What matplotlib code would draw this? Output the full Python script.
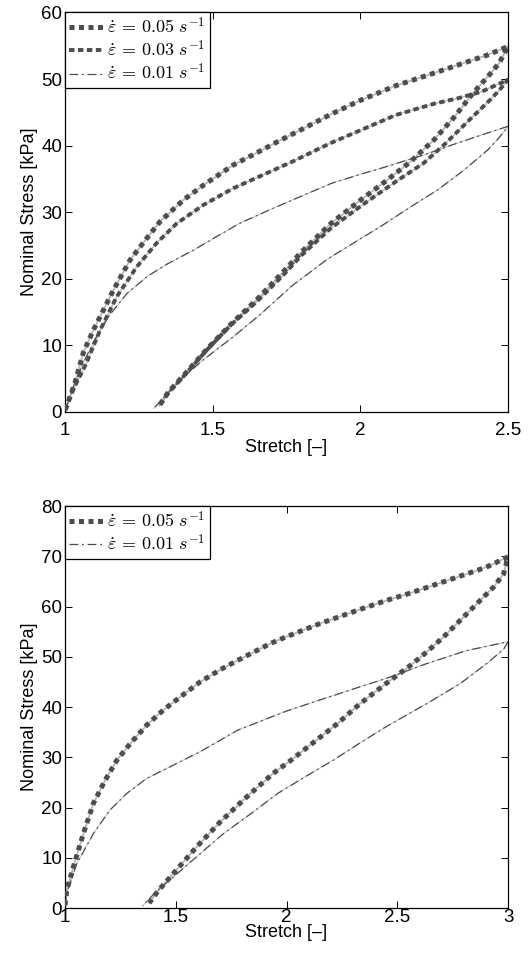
import numpy as np
import matplotlib
matplotlib.use("Agg")
import matplotlib.pyplot as plt
from matplotlib.ticker import FormatStrFormatter

plt.rcParams['font.family'] = ['Liberation Sans', 'DejaVu Sans']
plt.rcParams['mathtext.fontset'] = 'cm'

# --- test 1 : stretch up to 2.5 (loading then unloading for each rate) ---
s1_005 = [1.0, 1.006, 1.034, 1.062, 1.096, 1.130, 1.164, 1.22, 1.277, 1.322, 1.40, 1.47, 1.57, 1.64, 1.72,
          1.80, 1.90, 2.0, 2.12, 2.25, 2.35, 2.43, 2.5,
          2.47, 2.44, 2.38, 2.32, 2.25, 2.17, 2.09, 2.0, 1.90, 1.80, 1.74, 1.65, 1.56, 1.48, 1.40, 1.35, 1.32]
p1_005 = [0.3, 0.9, 4.4, 8.9, 12.3, 15.3, 18.3, 22.8, 26.1, 28.6, 31.8, 34.1, 37.1, 38.7, 40.6,
          42.4, 44.7, 46.8, 49.0, 50.9, 52.4, 53.6, 54.9,
          52.4, 50.8, 47.8, 44.4, 40.9, 37.6, 34.8, 31.8, 28.3, 24.0, 21.1, 16.9, 13.1, 9.4, 5.4, 3.0, 1.0]

s1_003 = [1.0, 1.028, 1.073, 1.119, 1.175, 1.243, 1.311, 1.378, 1.469, 1.57, 1.67, 1.77, 1.90, 2.0, 2.12,
          2.25, 2.33, 2.41, 2.5,
          2.47, 2.44, 2.37, 2.29, 2.215, 2.12, 2.01, 1.90, 1.80, 1.74, 1.65, 1.56, 1.48, 1.40, 1.35, 1.32]
p1_003 = [0.3, 3.4, 7.4, 12.3, 17.3, 21.8, 25.4, 28.3, 31.1, 33.6, 35.6, 37.6, 40.4, 42.3, 44.6,
          46.3, 47.1, 48.1, 49.9,
          48.3, 46.9, 43.9, 40.4, 37.4, 34.6, 31.2, 27.6, 23.5, 20.6, 16.6, 13.0, 9.3, 5.3, 2.9, 0.9]

s1_001 = [1.0, 1.03, 1.06, 1.10, 1.15, 1.21, 1.28, 1.345, 1.435, 1.50, 1.59, 1.70, 1.80, 1.90, 2.0, 2.07,
          2.215, 2.31, 2.41, 2.5,
          2.47, 2.43, 2.35, 2.26, 2.17, 2.07, 2.0, 1.89, 1.77, 1.66, 1.57, 1.47, 1.40, 1.35, 1.30]
p1_001 = [0.2, 4.0, 7.2, 10.8, 14.5, 17.8, 20.4, 22.2, 24.3, 26.0, 28.3, 30.5, 32.4, 34.3, 35.7, 36.6,
          38.6, 40.1, 41.6, 42.9,
          41.2, 39.3, 36.3, 33.3, 30.8, 27.9, 26.0, 23.0, 19.0, 14.6, 11.3, 7.9, 5.2, 2.9, 0.5]

# --- test 2 : stretch up to 3 ---
s2_005 = [1.0, 1.008, 1.038, 1.083, 1.128, 1.181, 1.234, 1.294, 1.369, 1.444, 1.52, 1.61, 1.70, 1.78, 1.93,
          2.0, 2.15, 2.33, 2.45, 2.56, 2.78, 2.9, 3.0,
          2.98, 2.935, 2.86, 2.785, 2.71, 2.634, 2.56, 2.45, 2.33, 2.23, 2.10, 2.02, 1.94, 1.82, 1.70,
          1.595, 1.49, 1.42, 1.38]
p2_005 = [0.5, 3.5, 8.2, 14.8, 20.8, 25.4, 29.4, 32.7, 36.4, 39.4, 42.0, 45.0, 47.4, 49.3, 52.7,
          54.0, 56.6, 59.4, 61.2, 62.7, 66.0, 67.8, 69.9,
          66.5, 63.9, 60.6, 57.3, 54.0, 51.0, 48.3, 44.7, 40.6, 36.7, 32.2, 29.4, 26.8, 22.1, 17.1,
          12.2, 6.9, 3.4, 1.0]

s2_001 = [1.0, 1.008, 1.053, 1.128, 1.203, 1.279, 1.369, 1.474, 1.61, 1.78, 1.93, 2.0, 2.15, 2.33, 2.45,
          2.63, 2.81, 3.0,
          2.98, 2.905, 2.785, 2.634, 2.45, 2.33, 2.21, 2.08, 1.96, 1.84, 1.715, 1.61, 1.50, 1.41, 1.35]
p2_001 = [0.3, 2.9, 8.8, 14.8, 19.5, 22.8, 25.8, 28.1, 31.1, 35.4, 38.0, 39.2, 41.4, 44.0, 45.7,
          48.6, 51.2, 53.0,
          51.5, 48.7, 44.7, 40.7, 36.1, 32.8, 29.4, 26.0, 22.8, 18.8, 14.8, 10.8, 6.6, 3.2, 0.4]

labels = [r'$\dot{\varepsilon}\,=\,0.05\ s^{-1}$',
          r'$\dot{\varepsilon}\,=\,0.03\ s^{-1}$',
          r'$\dot{\varepsilon}\,=\,0.01\ s^{-1}$']

DARK = '#4d4d4d'
LIGHT = '#b5b5b5'


def draw(ax, s, p, lw, dashes, label):
    ax.plot(s, p, color=LIGHT, lw=max(lw * 0.35, 0.6), zorder=2)
    ax.plot(s, p, color=DARK, lw=lw, dashes=dashes, label=label, zorder=3)


def style(ax, xmax, ymax, xticks, yticks, xpad, xlabelpad):
    ax.set_xlim(1, xmax)
    ax.set_ylim(0, ymax)
    ax.set_xticks(xticks)
    ax.set_yticks(yticks)
    ax.xaxis.set_major_formatter(FormatStrFormatter('%g'))
    ax.tick_params(direction='in', top=True, right=True, labelsize=13.5, length=5, width=0.7, pad=2)
    ax.tick_params(axis='x', pad=xpad)
    ax.set_xlabel('Stretch [–]', fontsize=13, labelpad=xlabelpad)
    ax.set_ylabel('Nominal Stress [kPa]', fontsize=13, labelpad=2)
    for sp in ax.spines.values():
        sp.set_linewidth(0.9)
    leg = ax.legend(loc='upper left', borderaxespad=0, fancybox=False, framealpha=1,
                    edgecolor='black', fontsize=13, handlelength=1.9, handletextpad=0.2,
                    labelspacing=0.15, borderpad=0.25)
    leg.get_frame().set_linewidth(0.9)


fig = plt.figure(figsize=(5.30, 9.57), dpi=100)

ax1 = fig.add_axes([0.1226, 0.5695, 0.836, 0.4175])
draw(ax1, s1_005, p1_005, 3.6, (1, 0.9), labels[0])
draw(ax1, s1_003, p1_003, 2.8, (1.4, 0.9), labels[1])
draw(ax1, s1_001, p1_001, 0.9, (7, 3, 1.5, 3), labels[2])
style(ax1, 2.5, 60, [1, 1.5, 2, 2.5], range(0, 61, 10), xpad=7, xlabelpad=0)

ax2 = fig.add_axes([0.1226, 0.0512, 0.836, 0.420])
draw(ax2, s2_005, p2_005, 3.6, (1, 0.9), labels[0])
draw(ax2, s2_001, p2_001, 0.9, (7, 3, 1.5, 3), labels[2])
style(ax2, 3, 80, [1, 1.5, 2, 2.5, 3], range(0, 81, 10), xpad=0.5, xlabelpad=-1)

fig.savefig('out.png', dpi=100)
